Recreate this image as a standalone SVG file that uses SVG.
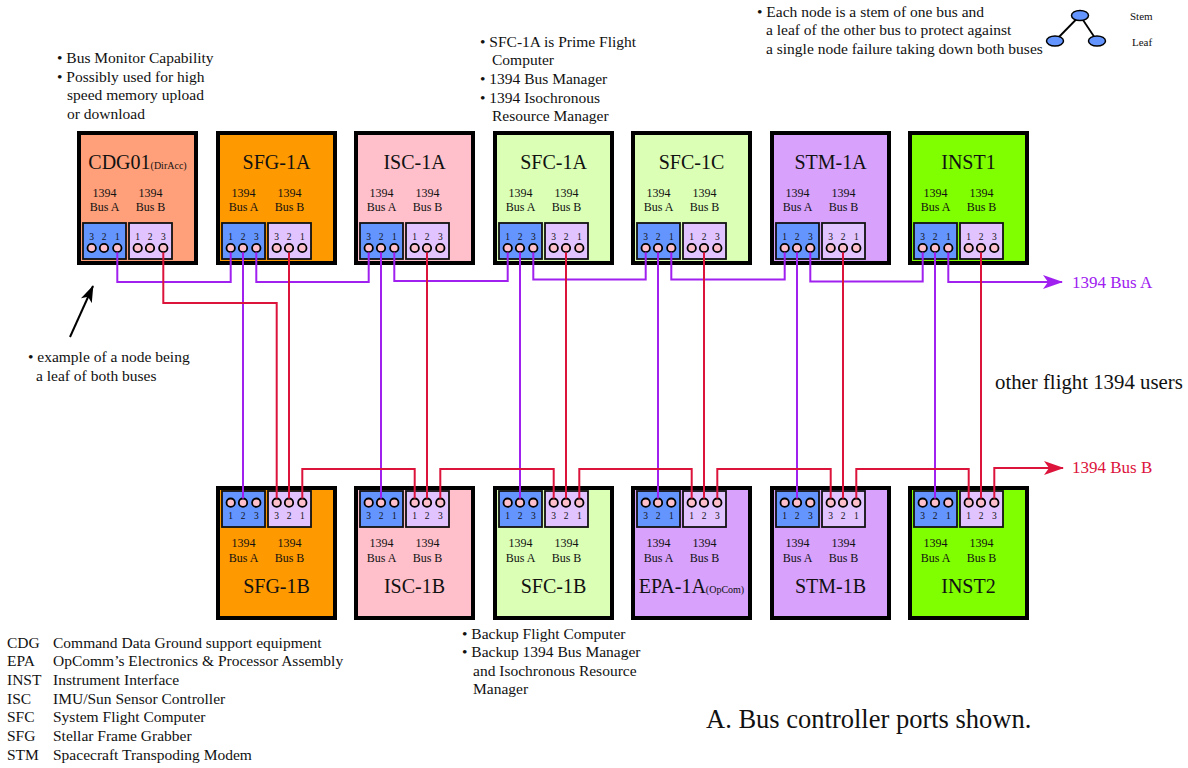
<svg xmlns="http://www.w3.org/2000/svg" width="1188" height="768" viewBox="0 0 1188 768">
<style>
text{font-family:"Liberation Serif","Times New Roman",serif;fill:#111}
.box{stroke:#000;stroke-width:4}
.pa{fill:#6495ff;stroke:#111;stroke-width:1.8}
.pb{fill:#e1c3ff;stroke:#111;stroke-width:1.8}
.c{fill:#ffc0cb;stroke:#000;stroke-width:1.8}
.pn{font-size:9.5px;text-anchor:middle}
.lbl{font-size:12px;text-anchor:middle}
.ttl{font-size:20px;text-anchor:middle}
.sub{font-size:10px}
.note{font-size:15.5px}
.wa{fill:none;stroke:#a020f0;stroke-width:2}
.wb{fill:none;stroke:#dc143c;stroke-width:2}
.cdg{fill:#ffa07a}.sfg{fill:#ff9900}.isc{fill:#ffc0cb}.sfc{fill:#daffb5}.stm{fill:#d7a1fc}.inst{fill:#80ff00}
</style>
<defs>
<marker id="arrA" viewBox="0 0 20 14" refX="19" refY="7" markerWidth="20" markerHeight="14" markerUnits="userSpaceOnUse" orient="auto"><path d="M0,0 L20,7 L0,14 L5,7 Z" fill="#a020f0"/></marker>
<marker id="arrB" viewBox="0 0 20 14" refX="19" refY="7" markerWidth="20" markerHeight="14" markerUnits="userSpaceOnUse" orient="auto"><path d="M0,0 L20,7 L0,14 L5,7 Z" fill="#dc143c"/></marker>
<marker id="arrK" viewBox="0 0 20 14" refX="19" refY="7" markerWidth="17" markerHeight="12" markerUnits="userSpaceOnUse" orient="auto"><path d="M0,0 L20,7 L0,14 L5,7 Z" fill="#000"/></marker>
</defs>

<!-- top row -->
<g id="cdg01" transform="translate(77,131)">
<rect class="box cdg" x="2" y="2" width="117" height="130"/>
<text class="ttl" x="60.5" y="38">CDG01<tspan class="sub">(DirAcc)</tspan></text>
<text class="lbl" x="27.5" y="66">1394</text><text class="lbl" x="27.5" y="80">Bus A</text>
<text class="lbl" x="73.5" y="66">1394</text><text class="lbl" x="73.5" y="80">Bus B</text>
<rect class="pa" x="6" y="92" width="43" height="36"/><rect class="pb" x="52" y="92" width="43" height="36"/>
<text class="pn" x="14.7 27 40.3" y="109">321</text><text class="pn" x="60.7 73 86.3" y="109">123</text>
<circle class="c" cx="14.7" cy="117" r="4.2"/><circle class="c" cx="27" cy="117" r="4.2"/><circle class="c" cx="40.3" cy="117" r="4.2"/>
<circle class="c" cx="60.7" cy="117" r="4.2"/><circle class="c" cx="73" cy="117" r="4.2"/><circle class="c" cx="86.3" cy="117" r="4.2"/>
</g>
<g id="sfg-1a" transform="translate(216,131)">
<rect class="box sfg" x="2" y="2" width="117" height="130"/>
<text class="ttl" x="60.5" y="38">SFG-1A</text>
<text class="lbl" x="27.5" y="66">1394</text><text class="lbl" x="27.5" y="80">Bus A</text>
<text class="lbl" x="73.5" y="66">1394</text><text class="lbl" x="73.5" y="80">Bus B</text>
<rect class="pa" x="6" y="92" width="43" height="36"/><rect class="pb" x="52" y="92" width="43" height="36"/>
<text class="pn" x="14.7 27 40.3" y="109">123</text><text class="pn" x="60.7 73 86.3" y="109">321</text>
<circle class="c" cx="14.7" cy="117" r="4.2"/><circle class="c" cx="27" cy="117" r="4.2"/><circle class="c" cx="40.3" cy="117" r="4.2"/>
<circle class="c" cx="60.7" cy="117" r="4.2"/><circle class="c" cx="73" cy="117" r="4.2"/><circle class="c" cx="86.3" cy="117" r="4.2"/>
</g>
<g id="isc-1a" transform="translate(354,131)">
<rect class="box isc" x="2" y="2" width="117" height="130"/>
<text class="ttl" x="60.5" y="38">ISC-1A</text>
<text class="lbl" x="27.5" y="66">1394</text><text class="lbl" x="27.5" y="80">Bus A</text>
<text class="lbl" x="73.5" y="66">1394</text><text class="lbl" x="73.5" y="80">Bus B</text>
<rect class="pa" x="6" y="92" width="43" height="36"/><rect class="pb" x="52" y="92" width="43" height="36"/>
<text class="pn" x="14.7 27 40.3" y="109">321</text><text class="pn" x="60.7 73 86.3" y="109">123</text>
<circle class="c" cx="14.7" cy="117" r="4.2"/><circle class="c" cx="27" cy="117" r="4.2"/><circle class="c" cx="40.3" cy="117" r="4.2"/>
<circle class="c" cx="60.7" cy="117" r="4.2"/><circle class="c" cx="73" cy="117" r="4.2"/><circle class="c" cx="86.3" cy="117" r="4.2"/>
</g>
<g id="sfc-1a" transform="translate(493,131)">
<rect class="box sfc" x="2" y="2" width="117" height="130"/>
<text class="ttl" x="60.5" y="38">SFC-1A</text>
<text class="lbl" x="27.5" y="66">1394</text><text class="lbl" x="27.5" y="80">Bus A</text>
<text class="lbl" x="73.5" y="66">1394</text><text class="lbl" x="73.5" y="80">Bus B</text>
<rect class="pa" x="6" y="92" width="43" height="36"/><rect class="pb" x="52" y="92" width="43" height="36"/>
<text class="pn" x="14.7 27 40.3" y="109">123</text><text class="pn" x="60.7 73 86.3" y="109">321</text>
<circle class="c" cx="14.7" cy="117" r="4.2"/><circle class="c" cx="27" cy="117" r="4.2"/><circle class="c" cx="40.3" cy="117" r="4.2"/>
<circle class="c" cx="60.7" cy="117" r="4.2"/><circle class="c" cx="73" cy="117" r="4.2"/><circle class="c" cx="86.3" cy="117" r="4.2"/>
</g>
<g id="sfc-1c" transform="translate(631,131)">
<rect class="box sfc" x="2" y="2" width="117" height="130"/>
<text class="ttl" x="60.5" y="38">SFC-1C</text>
<text class="lbl" x="27.5" y="66">1394</text><text class="lbl" x="27.5" y="80">Bus A</text>
<text class="lbl" x="73.5" y="66">1394</text><text class="lbl" x="73.5" y="80">Bus B</text>
<rect class="pa" x="6" y="92" width="43" height="36"/><rect class="pb" x="52" y="92" width="43" height="36"/>
<text class="pn" x="14.7 27 40.3" y="109">321</text><text class="pn" x="60.7 73 86.3" y="109">123</text>
<circle class="c" cx="14.7" cy="117" r="4.2"/><circle class="c" cx="27" cy="117" r="4.2"/><circle class="c" cx="40.3" cy="117" r="4.2"/>
<circle class="c" cx="60.7" cy="117" r="4.2"/><circle class="c" cx="73" cy="117" r="4.2"/><circle class="c" cx="86.3" cy="117" r="4.2"/>
</g>
<g id="stm-1a" transform="translate(770,131)">
<rect class="box stm" x="2" y="2" width="117" height="130"/>
<text class="ttl" x="60.5" y="38">STM-1A</text>
<text class="lbl" x="27.5" y="66">1394</text><text class="lbl" x="27.5" y="80">Bus A</text>
<text class="lbl" x="73.5" y="66">1394</text><text class="lbl" x="73.5" y="80">Bus B</text>
<rect class="pa" x="6" y="92" width="43" height="36"/><rect class="pb" x="52" y="92" width="43" height="36"/>
<text class="pn" x="14.7 27 40.3" y="109">123</text><text class="pn" x="60.7 73 86.3" y="109">321</text>
<circle class="c" cx="14.7" cy="117" r="4.2"/><circle class="c" cx="27" cy="117" r="4.2"/><circle class="c" cx="40.3" cy="117" r="4.2"/>
<circle class="c" cx="60.7" cy="117" r="4.2"/><circle class="c" cx="73" cy="117" r="4.2"/><circle class="c" cx="86.3" cy="117" r="4.2"/>
</g>
<g id="inst1" transform="translate(908,131)">
<rect class="box inst" x="2" y="2" width="117" height="130"/>
<text class="ttl" x="60.5" y="38">INST1</text>
<text class="lbl" x="27.5" y="66">1394</text><text class="lbl" x="27.5" y="80">Bus A</text>
<text class="lbl" x="73.5" y="66">1394</text><text class="lbl" x="73.5" y="80">Bus B</text>
<rect class="pa" x="6" y="92" width="43" height="36"/><rect class="pb" x="52" y="92" width="43" height="36"/>
<text class="pn" x="14.7 27 40.3" y="109">321</text><text class="pn" x="60.7 73 86.3" y="109">123</text>
<circle class="c" cx="14.7" cy="117" r="4.2"/><circle class="c" cx="27" cy="117" r="4.2"/><circle class="c" cx="40.3" cy="117" r="4.2"/>
<circle class="c" cx="60.7" cy="117" r="4.2"/><circle class="c" cx="73" cy="117" r="4.2"/><circle class="c" cx="86.3" cy="117" r="4.2"/>
</g>

<!-- bottom row -->
<g id="sfg-1b" transform="translate(216,486)">
<rect class="box sfg" x="2" y="2" width="117" height="130"/>
<rect class="pa" x="6" y="5" width="43" height="36"/><rect class="pb" x="52" y="5" width="43" height="36"/>
<text class="pn" x="14.7 27 40.3" y="33">123</text><text class="pn" x="60.7 73 86.3" y="33">321</text>
<circle class="c" cx="14.7" cy="16.7" r="4.2"/><circle class="c" cx="27" cy="16.7" r="4.2"/><circle class="c" cx="40.3" cy="16.7" r="4.2"/>
<circle class="c" cx="60.7" cy="16.7" r="4.2"/><circle class="c" cx="73" cy="16.7" r="4.2"/><circle class="c" cx="86.3" cy="16.7" r="4.2"/>
<text class="lbl" x="27.5" y="61">1394</text><text class="lbl" x="27.5" y="75.5">Bus A</text>
<text class="lbl" x="73.5" y="61">1394</text><text class="lbl" x="73.5" y="75.5">Bus B</text>
<text class="ttl" x="60.5" y="107">SFG-1B</text>
</g>
<g id="isc-1b" transform="translate(354,486)">
<rect class="box isc" x="2" y="2" width="117" height="130"/>
<rect class="pa" x="6" y="5" width="43" height="36"/><rect class="pb" x="52" y="5" width="43" height="36"/>
<text class="pn" x="14.7 27 40.3" y="33">321</text><text class="pn" x="60.7 73 86.3" y="33">123</text>
<circle class="c" cx="14.7" cy="16.7" r="4.2"/><circle class="c" cx="27" cy="16.7" r="4.2"/><circle class="c" cx="40.3" cy="16.7" r="4.2"/>
<circle class="c" cx="60.7" cy="16.7" r="4.2"/><circle class="c" cx="73" cy="16.7" r="4.2"/><circle class="c" cx="86.3" cy="16.7" r="4.2"/>
<text class="lbl" x="27.5" y="61">1394</text><text class="lbl" x="27.5" y="75.5">Bus A</text>
<text class="lbl" x="73.5" y="61">1394</text><text class="lbl" x="73.5" y="75.5">Bus B</text>
<text class="ttl" x="60.5" y="107">ISC-1B</text>
</g>
<g id="sfc-1b" transform="translate(493,486)">
<rect class="box sfc" x="2" y="2" width="117" height="130"/>
<rect class="pa" x="6" y="5" width="43" height="36"/><rect class="pb" x="52" y="5" width="43" height="36"/>
<text class="pn" x="14.7 27 40.3" y="33">123</text><text class="pn" x="60.7 73 86.3" y="33">321</text>
<circle class="c" cx="14.7" cy="16.7" r="4.2"/><circle class="c" cx="27" cy="16.7" r="4.2"/><circle class="c" cx="40.3" cy="16.7" r="4.2"/>
<circle class="c" cx="60.7" cy="16.7" r="4.2"/><circle class="c" cx="73" cy="16.7" r="4.2"/><circle class="c" cx="86.3" cy="16.7" r="4.2"/>
<text class="lbl" x="27.5" y="61">1394</text><text class="lbl" x="27.5" y="75.5">Bus A</text>
<text class="lbl" x="73.5" y="61">1394</text><text class="lbl" x="73.5" y="75.5">Bus B</text>
<text class="ttl" x="60.5" y="107">SFC-1B</text>
</g>
<g id="epa-1a" transform="translate(631,486)">
<rect class="box stm" x="2" y="2" width="117" height="130"/>
<rect class="pa" x="6" y="5" width="43" height="36"/><rect class="pb" x="52" y="5" width="43" height="36"/>
<text class="pn" x="14.7 27 40.3" y="33">321</text><text class="pn" x="60.7 73 86.3" y="33">123</text>
<circle class="c" cx="14.7" cy="16.7" r="4.2"/><circle class="c" cx="27" cy="16.7" r="4.2"/><circle class="c" cx="40.3" cy="16.7" r="4.2"/>
<circle class="c" cx="60.7" cy="16.7" r="4.2"/><circle class="c" cx="73" cy="16.7" r="4.2"/><circle class="c" cx="86.3" cy="16.7" r="4.2"/>
<text class="lbl" x="27.5" y="61">1394</text><text class="lbl" x="27.5" y="75.5">Bus A</text>
<text class="lbl" x="73.5" y="61">1394</text><text class="lbl" x="73.5" y="75.5">Bus B</text>
<text class="ttl" x="60.5" y="107">EPA-1A<tspan class="sub">(OpCom)</tspan></text>
</g>
<g id="stm-1b" transform="translate(770,486)">
<rect class="box stm" x="2" y="2" width="117" height="130"/>
<rect class="pa" x="6" y="5" width="43" height="36"/><rect class="pb" x="52" y="5" width="43" height="36"/>
<text class="pn" x="14.7 27 40.3" y="33">123</text><text class="pn" x="60.7 73 86.3" y="33">321</text>
<circle class="c" cx="14.7" cy="16.7" r="4.2"/><circle class="c" cx="27" cy="16.7" r="4.2"/><circle class="c" cx="40.3" cy="16.7" r="4.2"/>
<circle class="c" cx="60.7" cy="16.7" r="4.2"/><circle class="c" cx="73" cy="16.7" r="4.2"/><circle class="c" cx="86.3" cy="16.7" r="4.2"/>
<text class="lbl" x="27.5" y="61">1394</text><text class="lbl" x="27.5" y="75.5">Bus A</text>
<text class="lbl" x="73.5" y="61">1394</text><text class="lbl" x="73.5" y="75.5">Bus B</text>
<text class="ttl" x="60.5" y="107">STM-1B</text>
</g>
<g id="inst2" transform="translate(908,486)">
<rect class="box inst" x="2" y="2" width="117" height="130"/>
<rect class="pa" x="6" y="5" width="43" height="36"/><rect class="pb" x="52" y="5" width="43" height="36"/>
<text class="pn" x="14.7 27 40.3" y="33">321</text><text class="pn" x="60.7 73 86.3" y="33">123</text>
<circle class="c" cx="14.7" cy="16.7" r="4.2"/><circle class="c" cx="27" cy="16.7" r="4.2"/><circle class="c" cx="40.3" cy="16.7" r="4.2"/>
<circle class="c" cx="60.7" cy="16.7" r="4.2"/><circle class="c" cx="73" cy="16.7" r="4.2"/><circle class="c" cx="86.3" cy="16.7" r="4.2"/>
<text class="lbl" x="27.5" y="61">1394</text><text class="lbl" x="27.5" y="75.5">Bus A</text>
<text class="lbl" x="73.5" y="61">1394</text><text class="lbl" x="73.5" y="75.5">Bus B</text>
<text class="ttl" x="60.5" y="107">INST2</text>
</g>

<!-- connectors -->
<g id="connectors">
<path class="wa" d="M117.3 252.2V282H230.7V252.2"/>
<path class="wa" d="M243 252.2V498.5"/>
<path class="wa" d="M256.3 252.2V282H368.7V252.2"/>
<path class="wa" d="M381 252.2V498.5"/>
<path class="wa" d="M394.3 252.2V281H507.7V252.2"/>
<path class="wa" d="M520 252.2V498.5"/>
<path class="wa" d="M533.3 252.2V279.5H645.7V252.2"/>
<path class="wa" d="M658 252.2V498.5"/>
<path class="wa" d="M671.3 252.2V279.5H784.7V252.2"/>
<path class="wa" d="M797 252.2V498.5"/>
<path class="wa" d="M810.3 252.2V281.5H922.7V252.2"/>
<path class="wa" d="M935 252.2V498.5"/>
<path class="wa" d="M948.3 252.2V282H1062" marker-end="url(#arrA)"/>

<path class="wb" d="M163.3 252.2V303H276.7V498.5"/>
<path class="wb" d="M289 252.2V498.5"/>
<path class="wb" d="M302.3 498.5V469H414.7V498.5"/>
<path class="wb" d="M427 252.2V498.5"/>
<path class="wb" d="M440.3 498.5V469H553.7V498.5"/>
<path class="wb" d="M566 252.2V498.5"/>
<path class="wb" d="M579.3 498.5V469H691.7V498.5"/>
<path class="wb" d="M704 252.2V498.5"/>
<path class="wb" d="M717.3 498.5V469H830.7V498.5"/>
<path class="wb" d="M843 252.2V498.5"/>
<path class="wb" d="M856.3 498.5V469H968.7V498.5"/>
<path class="wb" d="M981 252.2V498.5"/>
<path class="wb" d="M994.3 498.5V468H1063" marker-end="url(#arrB)"/>

<path d="M70 337L93 286" stroke="#000" stroke-width="2" fill="none" marker-end="url(#arrK)"/>
</g>

<!-- bus labels -->
<text x="1072" y="288" style="font-size:17px;fill:#a020f0">1394 Bus A</text>
<text x="1072" y="473" style="font-size:17px;fill:#dc143c">1394 Bus B</text>
<text x="995" y="389" style="font-size:20.8px">other flight 1394 users</text>

<!-- notes -->
<g>
<text class="note" x="57" y="63">• Bus Monitor Capability</text>
<text class="note" x="57" y="82">• Possibly used for high</text>
<text class="note" x="67" y="100">speed memory upload</text>
<text class="note" x="67" y="119">or download</text>
</g>
<g>
<text class="note" x="480" y="47">• SFC-1A is Prime Flight</text>
<text class="note" x="492" y="65">Computer</text>
<text class="note" x="480" y="84">• 1394 Bus Manager</text>
<text class="note" x="480" y="103">• 1394 Isochronous</text>
<text class="note" x="492" y="121">Resource Manager</text>
</g>
<g>
<text class="note" x="757" y="17">• Each node is a stem of one bus and</text>
<text class="note" x="766" y="35">a leaf of the other bus to protect against</text>
<text class="note" x="766" y="53.5">a single node failure taking down both buses</text>
<line x1="1080" y1="15.5" x2="1055" y2="41" stroke="#000" stroke-width="1.8"/>
<line x1="1080" y1="15.5" x2="1097" y2="41" stroke="#000" stroke-width="1.8"/>
<ellipse cx="1080" cy="15.5" rx="8.5" ry="5" fill="#6495ff" stroke="#000" stroke-width="1.5"/>
<ellipse cx="1055" cy="41" rx="8.5" ry="5" fill="#6495ff" stroke="#000" stroke-width="1.5"/>
<ellipse cx="1097" cy="41" rx="8.5" ry="5" fill="#6495ff" stroke="#000" stroke-width="1.5"/>
<text x="1130" y="20" style="font-size:11px">Stem</text>
<text x="1132" y="46" style="font-size:11px">Leaf</text>
</g>
<g>
<text class="note" x="28" y="362">• example of a node being</text>
<text class="note" x="36" y="380.5">a leaf of both buses</text>
</g>
<g>
<text class="note" x="462" y="639">• Backup Flight Computer</text>
<text class="note" x="462" y="657">• Backup 1394 Bus Manager</text>
<text class="note" x="473" y="676">and Isochronous Resource</text>
<text class="note" x="473" y="694">Manager</text>
</g>
<text x="706" y="728" style="font-size:26.5px">A. Bus controller ports shown.</text>

<!-- legend -->
<g>
<text class="note" x="7" y="647.5">CDG</text><text class="note" x="53" y="647.5">Command Data Ground support equipment</text>
<text class="note" x="7" y="666">EPA</text><text class="note" x="53" y="666">OpComm’s Electronics &amp; Processor Assembly</text>
<text class="note" x="7" y="685">INST</text><text class="note" x="53" y="685">Instrument Interface</text>
<text class="note" x="7" y="703.5">ISC</text><text class="note" x="53" y="703.5">IMU/Sun Sensor Controller</text>
<text class="note" x="7" y="722">SFC</text><text class="note" x="53" y="722">System Flight Computer</text>
<text class="note" x="7" y="741">SFG</text><text class="note" x="53" y="741">Stellar Frame Grabber</text>
<text class="note" x="7" y="759.5">STM</text><text class="note" x="53" y="759.5">Spacecraft Transpoding Modem</text>
</g>
</svg>
